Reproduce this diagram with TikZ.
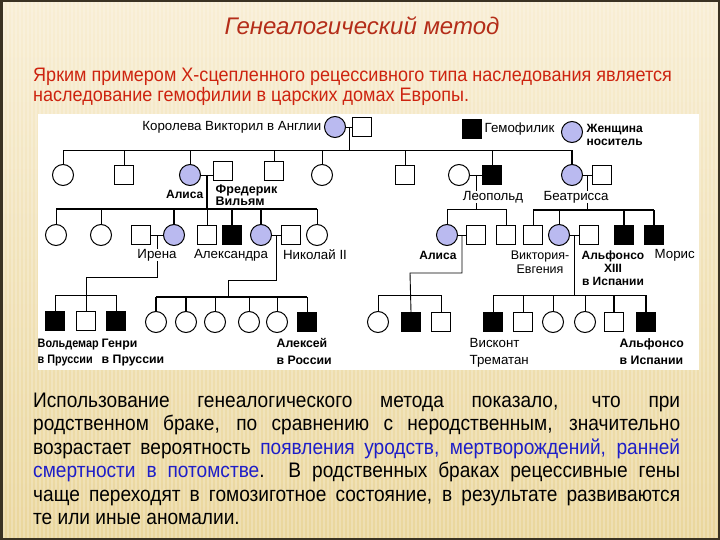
\documentclass[tikz,border=0pt]{standalone}
\usepackage{fontspec}
\setmainfont{Liberation Sans}
\newfontfamily\bodyf[FakeStretch=0.91]{Liberation Sans}
\newfontfamily\introf[FakeStretch=0.925]{Liberation Sans}
\newfontfamily\pedcond[FakeStretch=0.88]{Liberation Sans}
\usetikzlibrary{calc}
\definecolor{carrier}{RGB}{186,186,240}
\definecolor{bgtop}{RGB}{248,238,212}
\definecolor{bgbot}{RGB}{234,214,156}
\definecolor{frame}{RGB}{58,50,34}
\definecolor{ttl}{RGB}{180,45,25}
\definecolor{intro}{RGB}{205,35,15}
\definecolor{tblue}{RGB}{30,30,200}
\newcommand\pedf{\fontsize{13.3}{13.5}\selectfont}
\newcommand\pedb{\fontsize{12}{13}\selectfont\bfseries}
\newcommand\pedtwo{\fontsize{13.3}{16.5}\selectfont}
\newcommand\pedtwob{\fontsize{12.3}{16.5}\selectfont\bfseries}
\tikzset{
 fem/.style={circle,draw,line width=1pt,minimum size=21pt,inner sep=0pt,fill=white},
 car/.style={fem,fill=carrier},
 mal/.style={rectangle,draw,line width=1pt,minimum size=19pt,inner sep=0pt,fill=white},
 hem/.style={mal,fill=black},
 ln/.style={line width=0.9pt},
 tk/.style={line width=1.7pt},
 lb/.style={font=\pedf,inner sep=0.5pt,text=black},
 lbb/.style={font=\pedb,inner sep=0.5pt,text=black},
 wl/.style={lb,fill=white},
 lb4/.style={font=\pedtwo,anchor=north west,align=left,inner sep=0.5pt,text=black},
 lb4b/.style={font=\pedtwob,anchor=north west,align=left,inner sep=0.5pt,text=black},
 txt/.style={anchor=base west,inner sep=0pt,font=\bodyf\fontsize{21}{23}\selectfont},
 introtxt/.style={anchor=base west,inner sep=0pt,text=intro,font=\introf\fontsize{19.5}{20}\selectfont},
}
\begin{document}
\begin{tikzpicture}[x=1pt,y=-1pt]
\useasboundingbox (0,0) rectangle (720,540);
% background
\shade[top color=bgtop,bottom color=bgbot] (0,0) rectangle (720,540);
\foreach \i in {0,4,...,720} \draw[white,opacity=0.22,line width=1.3pt] (\i,0) -- (\i,540);
\draw[frame,line width=5pt] (0,0) rectangle (720,540);
\fill[white] (38,114) rectangle (699,370);

% title and intro
\node[font=\itshape\fontsize{24}{26}\selectfont,text=ttl,anchor=base] (title) at (362,35) {Генеалогический метод};
\node[introtxt] (intro1) at (33,82) {Ярким примером Х-сцепленного рецессивного типа наследования является};
\node[introtxt] (intro2) at (33,102) {наследование гемофилии в царских домах Европы.};

% generation I
\node[car] (vic) at (335,127) {};
\node[mal] (vicH) at (362,127) {};
\node[hem] (legH) at (472,129) {};
\node[car] (legC) at (572,132) {};

% generation II
\node[fem] (c1) at (63,175) {};
\node[mal] (c2) at (124,175) {};
\node[car] (alice) at (190,175) {};
\node[mal] (fred) at (223,171) {};
\node[mal] (c3) at (274,171) {};
\node[fem] (c4) at (322,175) {};
\node[mal] (c5) at (405,175) {};
\node[fem] (leoW) at (459,175) {};
\node[hem] (leo) at (492,175) {};
\node[car] (bea) at (572,175) {};
\node[mal] (beaH) at (602,175) {};

% generation III
\node[fem] (d1) at (56,235) {};
\node[fem] (d2) at (101,235) {};
\node[mal] (ireH) at (141,235) {};
\node[car] (irene) at (174,235) {};
\node[mal] (d3) at (207,235) {};
\node[hem] (d4) at (232,235) {};
\node[car] (alex) at (261,235) {};
\node[mal] (nic) at (291,235) {};
\node[fem] (d5) at (317,235) {};
\node[car] (lk1) at (447,235) {};
\node[mal] (aliH) at (476,235) {};
\node[mal] (lk2) at (506,235) {};
\node[mal] (bk1) at (533,235) {};
\node[car] (vicE) at (559,235) {};
\node[mal] (alf) at (589,235) {};
\node[hem] (bk2) at (624,235) {};
\node[hem] (bk3) at (654,235) {};

% generation IV
\node[hem] (e1) at (55,321) {};
\node[mal] (e2) at (86,321) {};
\node[hem] (e3) at (116,321) {};
\node[fem] (f1) at (156,322) {};
\node[fem] (f2) at (186,322) {};
\node[fem] (f3) at (215,322) {};
\node[fem] (f4) at (249,322) {};
\node[fem] (f5) at (277,322) {};
\node[hem] (f6) at (307,322) {};
\node[fem] (g1) at (378,322) {};
\node[hem] (g2) at (411,322) {};
\node[mal] (g3) at (441,322) {};
\node[hem] (h1) at (493,322) {};
\node[mal] (h2) at (523,322) {};
\node[fem] (h3) at (553,322) {};
\node[fem] (h4) at (585,322) {};
\node[mal] (h5) at (614,322) {};
\node[hem] (h6) at (646,322) {};

% sibship levels
\coordinate (s1) at (0,150);
\coordinate (s2) at (0,209);
\coordinate (s3) at (0,209);
\coordinate (s4) at (0,210);
\coordinate (s5) at (0,295);
\coordinate (s6) at (0,297);
\coordinate (s7) at (0,295);
\coordinate (s8) at (0,295);
\coordinate (j1) at (86,277);
\coordinate (j2) at (228,280);
\coordinate (j3) at (410,273);

% Victoria
\draw[ln] (vic.east) -- (vicH.west);
\coordinate (vm) at ($(vic.east)!0.5!(vicH.west)$);
\draw[ln] (vm) -- (vm |- s1);
\draw[ln] (c1.north |- s1) -- (bea.north |- s1);
\foreach \n in {c1,c2,alice,c3,c4,c5,leo} \draw[ln] (\n.north) -- (\n.north |- s1);
\draw[tk] (bea.north) -- (bea.north |- s1);

% Alice + Frederick
\draw[ln] (alice.east) -- (alice.east -| fred.west);
\coordinate (am) at ($(alice.east)!0.5!(alice.east -| fred.west)$);
\draw[tk] (am) -- (am |- s2);
\draw[tk] (d1.north |- s2) -- (d5.north |- s2);
\foreach \n in {d1,d2,d3,d5} \draw[ln] (\n.north) -- (\n.north |- s2);
\foreach \n in {irene,d4,alex} \draw[tk] (\n.north) -- (\n.north |- s2);

% Irene
\draw[ln] (ireH.east) -- (irene.west);
\coordinate (im) at ($(ireH.east)!0.5!(irene.west)$);
\draw[ln] (im) |- (j1) -- (e2.north);
\draw[ln] (e1.north |- s5) -- (e3.north |- s5);
\foreach \n in {e1,e3} \draw[ln] (\n.north) -- (\n.north |- s5);

% Alexandra + Nicholas
\draw[ln] (alex.east) -- (nic.west);
\coordinate (xm) at ($(alex.east)!0.5!(nic.west)$);
\draw[ln] (xm) |- (j2) -- (j2 |- s6);
\draw[tk] (f1.north |- s6) -- (f6.north |- s6);
\foreach \n in {f1,f2} \draw[tk] (\n.north) -- (\n.north |- s6);
\foreach \n in {f3,f4,f5,f6} \draw[ln] (\n.north) -- (\n.north |- s6);

% Leopold
\draw[ln] (leoW.east) -- (leo.west);
\coordinate (lm) at ($(leoW.east)!0.5!(leo.west)$);
\draw[ln] (lm) -- (lm |- s3);
\draw[ln] (lk1.north |- s3) -- (lk2.north |- s3);
\foreach \n in {lk1,lk2} \draw[ln] (\n.north) -- (\n.north |- s3);

% Alice (Leopold's daughter)
\draw[ln] (lk1.east) -- (aliH.west);
\coordinate (km) at ($(lk1.east)!0.5!(aliH.west)$);
\draw[ln] (km) |- (j3) -- (g2.north);
\draw[ln] (g1.north |- s7) -- (g3.north |- s7);
\foreach \n in {g1,g3} \draw[ln] (\n.north) -- (\n.north |- s7);

% Beatrice
\draw[ln] (bea.east) -- (beaH.west);
\coordinate (bm) at ($(bea.east)!0.5!(beaH.west)$);
\draw[tk] (bm) -- (bm |- s4);
\draw[tk] (bk1.north |- s4) -- (bk3.north |- s4);
\foreach \n in {bk1,vicE} \draw[ln] (\n.north) -- (\n.north |- s4);
\foreach \n in {bk2,bk3} \draw[tk] (\n.north) -- (\n.north |- s4);

% Victoria-Eugenie + Alfonso XIII
\draw[ln] (vicE.east) -- (alf.west);
\coordinate (em) at ($(vicE.east)!0.5!(alf.west)$);
\draw[ln] (em) -- (em |- s8);
\draw[ln] (h1.north |- s8) -- (h6.north |- s8);
\foreach \n in {h1,h2,h3,h4} \draw[ln] (\n.north) -- (\n.north |- s8);
\foreach \n in {h5,h6} \draw[tk] (\n.north) -- (\n.north |- s8);

% labels
\node[lb,anchor=east] (lvic) at ([xshift=-2pt]vic.west) {Королева Викторил в Англии};
\node[lb,anchor=west] (lhem) at ([xshift=2pt]legH.east) {Гемофилик};
\node[lbb,anchor=west,align=left] (lcar) at (586,135) {Женщина\\носитель};
\node[lbb,anchor=east] (lalice) at (204,194) {Алиса};
\node[lbb,anchor=west,align=left,font=\fontsize{12.5}{12.5}\selectfont\bfseries] (lfred) at (215,195) {Фредерик\\Вильям};
\node[wl] (lleo) at (493,197) {Леопольд};
\node[wl] (lbea) at (576,197) {Беатрисса};
\node[wl] (lire) at (157,255) {Ирена};
\node[lb] (lalex) at (231,255) {Александра};
\node[lb] (lnic) at (315,255) {Николай II};
\node[lbb] (lali2) at (438,255) {Алиса};
\node[lb,align=center,font=\fontsize{12.5}{14}\selectfont] (lvicE) at (540,262) {Виктория-\\Евгения};
\node[lbb,align=center] (lalf) at (613,268) {Альфонсо\\XIII\\в Испании};
\node[lb,anchor=west] (lmor) at (654,255) {Морис};
\node[lb4b,font=\pedcond\pedtwob] (lvol) at (37,338) {Вольдемар\\в Пруссии};
\node[lb4b] (lhen) at (101,338) {Генри\\в Пруссии};
\node[lb4b] (lalx) at (276,338) {Алексей\\в России};
\node[lb4] (lvis) at (469,338) {Висконт\\Трематан};
\node[lb4b] (lalf2) at (619,338) {Альфонсо\\в Испании};

% bottom text
\node[txt] (t1) at (33,407) {\makebox[647pt][s]{Использование генеалогического метода показало, что при}};
\node[txt] (t2) at (33,430.5) {\makebox[647pt][s]{родственном браке, по сравнению с неродственным, значительно}};
\node[txt] (t3) at (33,454) {\makebox[647pt][s]{возрастает вероятность \textcolor{tblue}{появления уродств, мертворождений, ранней}}};
\node[txt] (t4) at (33,477.5) {\makebox[647pt][s]{\textcolor{tblue}{смертности в потомстве}. В родственных браках рецессивные гены}};
\node[txt] (t5) at (33,501) {\makebox[647pt][s]{чаще переходят в гомозиготное состояние, в результате развиваются}};
\node[txt] (t6) at (33,524.5) {те или иные аномалии.};
\end{tikzpicture}
\end{document}
